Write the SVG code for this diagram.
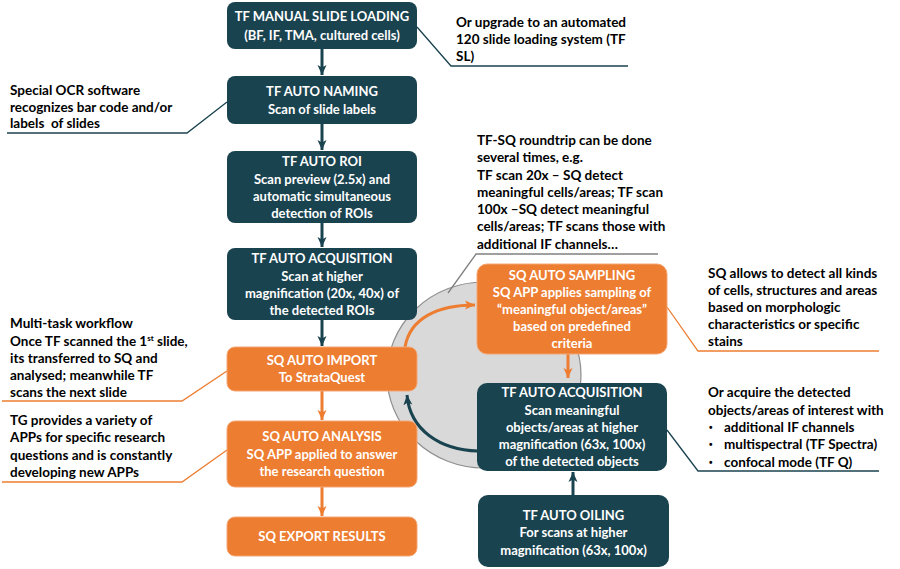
<svg xmlns="http://www.w3.org/2000/svg" width="900" height="569" viewBox="0 0 900 569">
<style>
.dk{fill:#1a4350;}
.or{fill:#ed7d31;stroke:#f3a674;stroke-width:1;}
.nt{font-family:Lato,"Liberation Sans",sans-serif;font-weight:bold;font-size:13px;fill:#ffffff;text-anchor:middle;}
.ct{font-family:Lato,"Liberation Sans",sans-serif;font-weight:bold;font-size:13.5px;fill:#000000;}
.bu{font-family:"Liberation Sans",sans-serif;font-weight:bold;font-size:10px;fill:#000000;}
.ld{fill:none;stroke:#1a4350;stroke-width:1.3;}
.lo{fill:none;stroke:#ed7d31;stroke-width:1.3;}
.lg{fill:none;stroke:#808080;stroke-width:1.3;}
.ad{fill:none;stroke:#1a4350;stroke-width:3;marker-end:url(#mdk);}
.ao{fill:none;stroke:#ed7d31;stroke-width:3;marker-end:url(#mor);}
</style>
<defs>
<marker id="mdk" markerUnits="userSpaceOnUse" markerWidth="10" markerHeight="10" refX="10" refY="5" orient="auto">
<path d="M0,0.5 L10,5 L0,9.5 L2.5,5 z" fill="#1a4350"/>
</marker>
<marker id="mor" markerUnits="userSpaceOnUse" markerWidth="10" markerHeight="10" refX="10" refY="5" orient="auto">
<path d="M0,0.5 L10,5 L0,9.5 L2.5,5 z" fill="#ed7d31"/>
</marker>
</defs>
<rect width="900" height="569" fill="#ffffff"/>

<ellipse id="cycle" cx="484" cy="375" rx="97" ry="93" fill="#d9d9d9" stroke="#8f8f8f" stroke-width="1.2"/>

<g id="connectors">
<line class="ad" x1="322" y1="49" x2="322" y2="75"/>
<line class="ad" x1="322" y1="124" x2="322" y2="150"/>
<line class="ad" x1="322" y1="223" x2="322" y2="247"/>
<line class="ad" x1="322" y1="320" x2="322" y2="346"/>
<line class="ao" x1="322" y1="391" x2="322" y2="420"/>
<line class="ao" x1="322" y1="487" x2="322" y2="516"/>
<path class="ao" d="M405,347 C410,318 438,305 475,305"/>
<path class="ad" d="M478,451 C440,450 410,430 407,395"/>
<line class="ao" x1="568" y1="354" x2="568" y2="378"/>
<line class="ad" x1="573" y1="495" x2="573" y2="472"/>
<polyline class="ld" points="417,27 451,66 628,66"/>
<polyline class="ld" points="227,102 187,133 7,133"/>
<polyline class="lg" points="448,293 476,254 658,254"/>
<polyline class="lo" points="227,371 182,401 2,401"/>
<polyline class="lo" points="227,450 182,482 2,482"/>
<polyline class="lo" points="667,307 698,351 879,351"/>
<polyline class="ld" points="667,430 698,471 879,471"/>
</g>

<g id="n1">
<rect class="dk" x="227" y="2" width="190" height="47" rx="8"/>
<text class="nt" x="322" y="21">TF MANUAL SLIDE LOADING</text>
<text class="nt" x="322" y="40">(BF, IF, TMA, cultured cells)</text>
</g>
<g id="n2">
<rect class="dk" x="227" y="76" width="190" height="48" rx="8"/>
<text class="nt" x="322" y="96">TF AUTO NAMING</text>
<text class="nt" x="322" y="114">Scan of slide labels</text>
</g>
<g id="n3">
<rect class="dk" x="227" y="151" width="190" height="72" rx="8"/>
<text class="nt" x="322" y="166">TF AUTO ROI</text>
<text class="nt" x="322" y="183.5">Scan preview (2.5x) and</text>
<text class="nt" x="322" y="201">automatic simultaneous</text>
<text class="nt" x="322" y="218">detection of ROIs</text>
</g>
<g id="n4">
<rect class="dk" x="227" y="248" width="190" height="72" rx="8"/>
<text class="nt" x="322" y="263">TF AUTO ACQUISITION</text>
<text class="nt" x="322" y="280.5">Scan at higher</text>
<text class="nt" x="322" y="298">magnification (20x, 40x) of</text>
<text class="nt" x="322" y="315">the detected ROIs</text>
</g>
<g id="n5">
<rect class="or" x="227" y="347" width="190" height="44" rx="8"/>
<text class="nt" x="322" y="364.5">SQ AUTO IMPORT</text>
<text class="nt" x="322" y="382">To StrataQuest</text>
</g>
<g id="n6">
<rect class="or" x="227" y="421" width="190" height="66" rx="8"/>
<text class="nt" x="322" y="441">SQ AUTO ANALYSIS</text>
<text class="nt" x="322" y="458.5">SQ APP applied to answer</text>
<text class="nt" x="322" y="476">the research question</text>
</g>
<g id="n7">
<rect class="or" x="227" y="517" width="190" height="39" rx="8"/>
<text class="nt" x="322" y="541">SQ EXPORT RESULTS</text>
</g>
<g id="n8">
<rect class="or" x="477" y="264" width="190" height="90" rx="10"/>
<text class="nt" x="572" y="279.5">SQ AUTO SAMPLING</text>
<text class="nt" x="572" y="297">SQ APP applies sampling of</text>
<text class="nt" x="572" y="314">“meaningful object/areas”</text>
<text class="nt" x="572" y="331">based on predefined</text>
<text class="nt" x="572" y="348">criteria</text>
</g>
<g id="n9">
<rect class="dk" x="477" y="383" width="190" height="88" rx="10"/>
<text class="nt" x="572" y="397">TF AUTO ACQUISITION</text>
<text class="nt" x="572" y="414.5">Scan meaningful</text>
<text class="nt" x="572" y="431.5">objects/areas at higher</text>
<text class="nt" x="572" y="449">magnification (63x, 100x)</text>
<text class="nt" x="572" y="466">of the detected objects</text>
</g>
<g id="n10">
<rect class="dk" x="478" y="495" width="191" height="72" rx="10"/>
<text class="nt" x="573.5" y="519.5">TF AUTO OILING</text>
<text class="nt" x="573.5" y="537">For scans at higher</text>
<text class="nt" x="573.5" y="554.5">magnification (63x, 100x)</text>
</g>

<g id="notes">
<text class="ct" x="456" y="27">Or upgrade to an automated</text>
<text class="ct" x="456" y="44">120 slide loading system (TF</text>
<text class="ct" x="456" y="61">SL)</text>

<text class="ct" x="10" y="95">Special OCR software</text>
<text class="ct" x="10" y="111.5">recognizes bar code and/or</text>
<text class="ct" x="10" y="128">labels&#160; of slides</text>

<text class="ct" x="477" y="145">TF-SQ roundtrip can be done</text>
<text class="ct" x="477" y="162">several times, e.g.</text>
<text class="ct" x="477" y="179.5">TF scan 20x – SQ detect</text>
<text class="ct" x="477" y="197">meaningful cells/areas; TF scan</text>
<text class="ct" x="477" y="214">100x –SQ detect meaningful</text>
<text class="ct" x="477" y="231">cells/areas; TF scans those with</text>
<text class="ct" x="477" y="248.5">additional IF channels…</text>

<text class="ct" x="10" y="328">Multi-task workflow</text>
<text class="ct" x="10" y="345.5">Once TF scanned the 1<tspan font-size="8" dy="-5">st</tspan><tspan dy="5"> slide,</tspan></text>
<text class="ct" x="10" y="363">its transferred to SQ and</text>
<text class="ct" x="10" y="380">analysed; meanwhile TF</text>
<text class="ct" x="10" y="397">scans the next slide</text>

<text class="ct" x="10" y="424.5">TG provides a variety of</text>
<text class="ct" x="10" y="442">APPs for specific research</text>
<text class="ct" x="10" y="459.5">questions and is constantly</text>
<text class="ct" x="10" y="477">developing new APPs</text>

<text class="ct" x="708" y="278">SQ allows to detect all kinds</text>
<text class="ct" x="708" y="295">of cells, structures and areas</text>
<text class="ct" x="708" y="312">based on morphologic</text>
<text class="ct" x="708" y="329">characteristics or specific</text>
<text class="ct" x="708" y="346">stains</text>

<text class="ct" x="708" y="397">Or acquire the detected</text>
<text class="ct" x="708" y="414.5">objects/areas of interest with</text>
<text class="bu" x="709" y="430.5">•</text>
<text class="ct" x="724" y="431.5">additional IF channels</text>
<text class="bu" x="709" y="448">•</text>
<text class="ct" x="724" y="449">multispectral (TF Spectra)</text>
<text class="bu" x="709" y="465.5">•</text>
<text class="ct" x="724" y="466.5">confocal mode (TF Q)</text>
</g>
</svg>
